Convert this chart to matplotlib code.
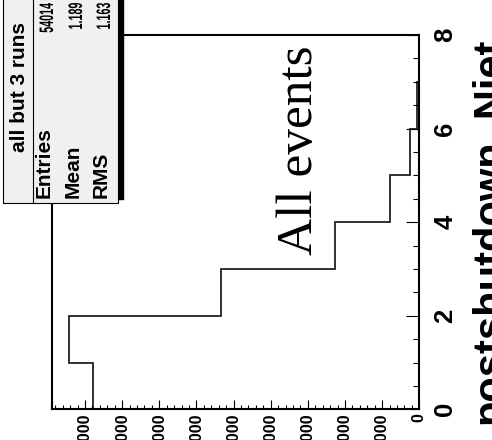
import matplotlib
matplotlib.use("Agg")
from matplotlib import pyplot as plt
from matplotlib.patches import Rectangle, PathPatch
from matplotlib.ticker import MultipleLocator
from matplotlib.textpath import TextPath
from matplotlib.font_manager import FontProperties
from matplotlib.transforms import Affine2D

# histogram of jet multiplicity
njet_edges = [0, 1, 2, 3, 4, 5, 6, 7, 8]
njet_counts = [17550, 18850, 10700, 4540, 1580, 500, 140, 20]

count_ticks = list(range(0, 18001, 2000))
njet_ticks = [0, 2, 4, 6, 8]

stats_title = "all but 3 runs"
stats_names = ["Entries", "Mean", "RMS"]
stats_values = ["54014", "1.189", "1.163"]
annotation = "All events"
axis_title = "postshutdown_Njet"

plt.rcParams["font.family"] = ["Liberation Sans", "DejaVu Sans"]
plt.rcParams["font.weight"] = "bold"

W, H = 492, 440
fig = plt.figure(figsize=(W / 100, H / 100), dpi=100)

# the whole ROOT canvas is turned 90 degrees: counts run right->left, Njet bottom->top
ax = fig.add_axes([51.7 / W, (H - 409.3) / H, 367.6 / W, 374.3 / H])
ax.stairs(njet_counts, njet_edges, orientation="horizontal",
          color="#222222", linewidth=1.3, baseline=0)
ax.set_xlim(max(njet_counts) * 1.05, 0)
ax.set_ylim(njet_edges[0], njet_edges[-1])

for side in ["left", "right", "top", "bottom"]:
    ax.spines[side].set_linewidth(1.5)
    ax.spines[side].set_color("black")

ax.set_xticks(count_ticks)
ax.set_xticklabels([str(v) for v in count_ticks])
ax.xaxis.set_minor_locator(MultipleLocator(400))
ax.tick_params(axis="x", which="both", direction="in", bottom=True, top=False,
               labelrotation=90, labelsize=11.5, pad=3, width=0.8)
ax.tick_params(axis="x", which="major", length=6.7)
ax.tick_params(axis="x", which="minor", length=3.1)

ax.yaxis.tick_right()
ax.set_yticks(njet_ticks)
ax.yaxis.set_minor_locator(MultipleLocator(0.5))
ax.tick_params(axis="y", which="both", direction="in", left=False, right=True,
               labelleft=False, labelright=True, labelrotation=90,
               labelsize=18.5, pad=10, width=0.8)
ax.tick_params(axis="y", which="major", length=9.1)
ax.tick_params(axis="y", which="minor", length=4.3)
for lab in ax.get_yticklabels():
    lab.set_va("center")
    lab.set_ha("left")

# overlay in pixel coordinates for the stats box and free texts
ov = fig.add_axes([0, 0, 1, 1])
ov.set_xlim(0, W)
ov.set_ylim(H, 0)
ov.axis("off")
ov.patch.set_alpha(0)

ov.add_patch(Rectangle((7.3, -40), 115.4, 239, color="black"))
ov.add_patch(Rectangle((3.3, -36), 114.7, 239, facecolor="#f0f0f0",
                       edgecolor="black", linewidth=0.8))
ov.plot([33.3, 33.3], [-36, 203], color="black", linewidth=0.8)

ov.text(19.5, 87, stats_title, rotation=90, ha="center", va="center", fontsize=15)
name_x = [44, 73.5, 101]
for x, name in zip(name_x, stats_names):
    ov.text(x, 198, name, rotation=90, ha="center", va="bottom", fontsize=15)

# ROOT squeezes the numbers to fit the box: draw them as narrowed glyph paths
num_font = FontProperties(family="Liberation Sans", weight="bold")
value_baseline = [53, 82, 110]
for xb, val in zip(value_baseline, stats_values):
    tp = TextPath((0, 0), val, size=19.5, prop=num_font)
    sx = 0.55
    length = tp.get_extents().x1 * sx
    tr = Affine2D().scale(sx, 1).rotate_deg(90).translate(xb, H - (3 + length))
    ov.add_patch(PathPatch(tr.transform_path(tp), facecolor="black",
                           edgecolor="none", transform=None))

ov.text(312, 255, annotation, rotation=90, rotation_mode="anchor",
        ha="left", va="baseline", fontsize=37, fontweight="normal",
        family=["Liberation Serif", "DejaVu Serif"])

ov.text(501, 38, axis_title, rotation=90, rotation_mode="anchor",
        ha="right", va="baseline", fontsize=30)

fig.savefig("out.png", dpi=100)
